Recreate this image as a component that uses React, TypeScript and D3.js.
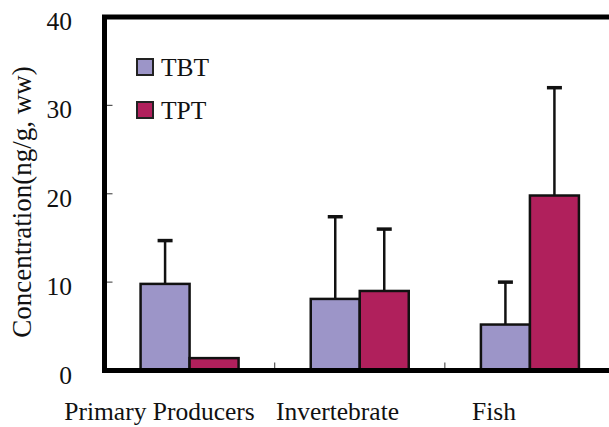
import React, { useRef, useEffect } from "react";
import * as d3 from "d3";

const categories = ["Primary Producers", "Invertebrate", "Fish"];
const seriesNames = ["TBT", "TPT"];
const tbtMean = [9.8, 8.1, 5.2];
const tbtSd = [4.9, 9.3, 4.8];
const tptMean = [1.4, 9.0, 19.8];
const tptSd = [0, 7.0, 12.2];
const yTicks = [0, 10, 20, 30, 40];
const colors = ["#9c95c8", "#b0205c"];

const FONT = "'Liberation Serif', 'Times New Roman', serif";

const App = () => {
  const svgRef = useRef<SVGSVGElement>(null);

  useEffect(() => {
    const width = 609;
    const height = 427;
    const left = 104.5;
    const right = 615;
    const top = 17;
    const bottom = 370.5;

    const svg = d3.select(svgRef.current).attr("width", width).attr("height", height);
    svg.selectAll("*").remove();

    const y = d3.scaleLinear().domain([0, 40]).range([bottom, top]);
    const x = d3.scaleBand().domain(categories).range([left, right]).padding(0);
    const bw = x.bandwidth();
    const barW = 49;
    const xs = d3
      .scaleBand()
      .domain(seriesNames)
      .range([bw / 2 - barW, bw / 2 + barW])
      .padding(0);

    const series = [
      { name: "TBT", mean: tbtMean, sd: tbtSd },
      { name: "TPT", mean: tptMean, sd: tptSd },
    ];

    // bars + error bars
    series.forEach((s, si) => {
      categories.forEach((c, ci) => {
        const bx = (x(c) as number) + (xs(s.name) as number);
        const v = s.mean[ci];
        const e = s.sd[ci];
        if (e > 0) {
          const cx = bx + xs.bandwidth() / 2;
          svg
            .append("line")
            .attr("x1", cx)
            .attr("x2", cx)
            .attr("y1", y(v))
            .attr("y2", y(v + e))
            .attr("stroke", "#111")
            .attr("stroke-width", 2.5);
          svg
            .append("line")
            .attr("x1", cx - 7.5)
            .attr("x2", cx + 7.5)
            .attr("y1", y(v + e))
            .attr("y2", y(v + e))
            .attr("stroke", "#111")
            .attr("stroke-width", 3.5);
        }
        svg
          .append("rect")
          .attr("x", bx)
          .attr("y", y(v))
          .attr("width", xs.bandwidth())
          .attr("height", y(0) - y(v))
          .attr("fill", colors[si])
          .attr("stroke", "#111")
          .attr("stroke-width", 2.5);
      });
    });

    // y ticks (inside)
    yTicks
      .filter((t) => t > 0 && t < 40)
      .forEach((t) => {
        svg
          .append("line")
          .attr("x1", left + 2)
          .attr("x2", left + 8)
          .attr("y1", y(t))
          .attr("y2", y(t))
          .attr("stroke", "#555")
          .attr("stroke-width", 1.2);
      });

    // x ticks at category boundaries
    categories.slice(1).forEach((c) => {
      svg
        .append("line")
        .attr("x1", x(c) as number)
        .attr("x2", x(c) as number)
        .attr("y1", bottom - 2)
        .attr("y2", bottom - 8)
        .attr("stroke", "#555")
        .attr("stroke-width", 1.2);
    });

    // frame
    svg
      .append("path")
      .attr("d", `M${width + 10},${top} H${left} V${bottom} H${width + 10}`)
      .attr("fill", "none")
      .attr("stroke", "#000")
      .attr("stroke-width", 5);

    // y tick labels
    yTicks.forEach((t) => {
      svg
        .append("text")
        .attr("x", 72)
        .attr("y", y(t) + 13)
        .attr("text-anchor", "end")
        .attr("font-family", FONT)
        .attr("font-size", 25.5)
        .attr("fill", "#111")
        .text(t);
    });

    // x labels
    const labelX = [159.5, 337.5, 494];
    categories.forEach((c, i) => {
      svg
        .append("text")
        .attr("x", labelX[i])
        .attr("y", 420)
        .attr("text-anchor", "middle")
        .attr("font-family", FONT)
        .attr("font-size", 25.5)
        .attr("fill", "#111")
        .text(c);
    });

    // y axis title
    svg
      .append("text")
      .attr("transform", `translate(31, 202) rotate(-90)`)
      .attr("text-anchor", "middle")
      .attr("font-family", FONT)
      .attr("font-size", 27)
      .attr("fill", "#111")
      .text("Concentration(ng/g, ww)");

    // legend
    seriesNames.forEach((n, i) => {
      const ly = 59 + i * 43;
      svg
        .append("rect")
        .attr("x", 137)
        .attr("y", ly)
        .attr("width", 16)
        .attr("height", 16)
        .attr("fill", colors[i])
        .attr("stroke", "#222")
        .attr("stroke-width", 2);
      svg
        .append("text")
        .attr("x", 161)
        .attr("y", ly + 17)
        .attr("font-family", FONT)
        .attr("font-size", 25.5)
        .attr("fill", "#111")
        .text(n);
    });
  }, []);

  return (
    <svg
      ref={svgRef}
      style={{ position: "absolute", left: 0, top: 0, background: "#fff" }}
    ></svg>
  );
};

export default App;
